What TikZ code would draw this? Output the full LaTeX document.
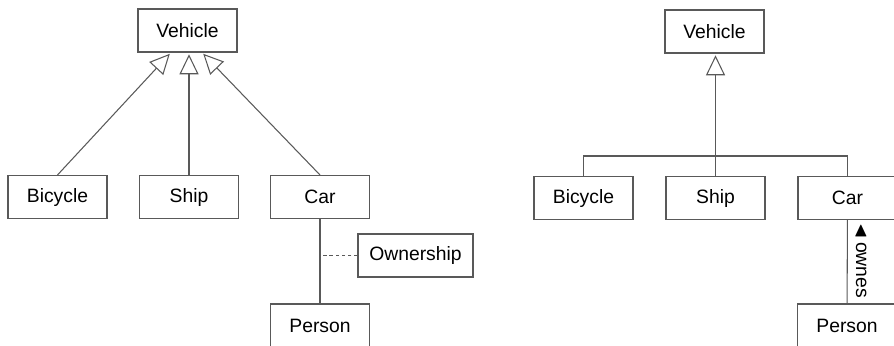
\documentclass[tikz,border=0pt]{standalone}
\usepackage{amsmath,amssymb}
\usepackage{fontspec}
\setmainfont{Liberation Sans}
\usepackage{xcolor}
\usetikzlibrary{arrows.meta}

\begin{document}
\begin{tikzpicture}[x=1cm, y=1cm,
    cls/.style={draw=black!65, line width=0.6pt, minimum width=1.98cm,
                minimum height=0.86cm, inner sep=0pt, font=\fontsize{11}{13}\selectfont},
    gen/.style={draw=black!65, line width=0.6pt,
                -{Triangle[open, length=0.4cm, width=0.38cm]}, shorten >=1pt},
    lnk/.style={draw=black!65, line width=0.6pt}]
  \useasboundingbox (0,0) rectangle (17.88,-6.9);
  % left: one arrow per subclass
  \node[cls] (lveh) at (3.75,-0.61) {Vehicle};
  \foreach \t/\x [count=\i] in {Bicycle/1.15, Ship/3.78, Car/6.40}{
    \node[cls] (lsub\i) at (\x,-3.94) {\t};}
  \coordinate (ltip1) at ([xshift=-0.33cm]lveh.south);
  \coordinate (ltip3) at ([xshift=0.29cm]lveh.south);
  \draw[gen] (lsub1.north) -- (ltip1);
  \draw[gen] (lsub2.north) -- (lsub2.north |- lveh.south);
  \draw[gen] (lsub3.north) -- (ltip3);
  \node[cls] (lown) at (6.40,-6.51) {Person};
  \node[cls, minimum width=2.30cm] (assoc) at (8.31,-5.11) {Ownership};
  \draw[lnk] (lsub3) -- (lown);
  \draw[lnk, dashed, dash pattern=on 2pt off 1.5pt] (assoc.west) -- (assoc.west -| lsub3);
  % right: shared tree
  \node[cls] (rveh) at (14.29,-0.63) {Vehicle};
  \foreach \t/\x [count=\i] in {Bicycle/11.67, Ship/14.31, Car/16.95}{
    \node[cls] (rsub\i) at (\x,-3.96) {\t};}
  \coordinate (bus) at (0,-3.12);
  \draw[lnk] (rsub1.north) -- (rsub1.north |- bus) -- (rsub3.north |- bus) -- (rsub3.north);
  \draw[gen] (rsub2.north) -- (rsub2.north |- rveh.south);
  \node[cls] (rown) at (16.94,-6.51) {Person};
  \draw[lnk] (rsub3) -- (rown);
  \node[rotate=-90, font=\fontsize{11}{13}\selectfont] (ownes) at (17.22,-5.22)
    {$\blacktriangleleft$\,ownes};
\end{tikzpicture}
\end{document}
